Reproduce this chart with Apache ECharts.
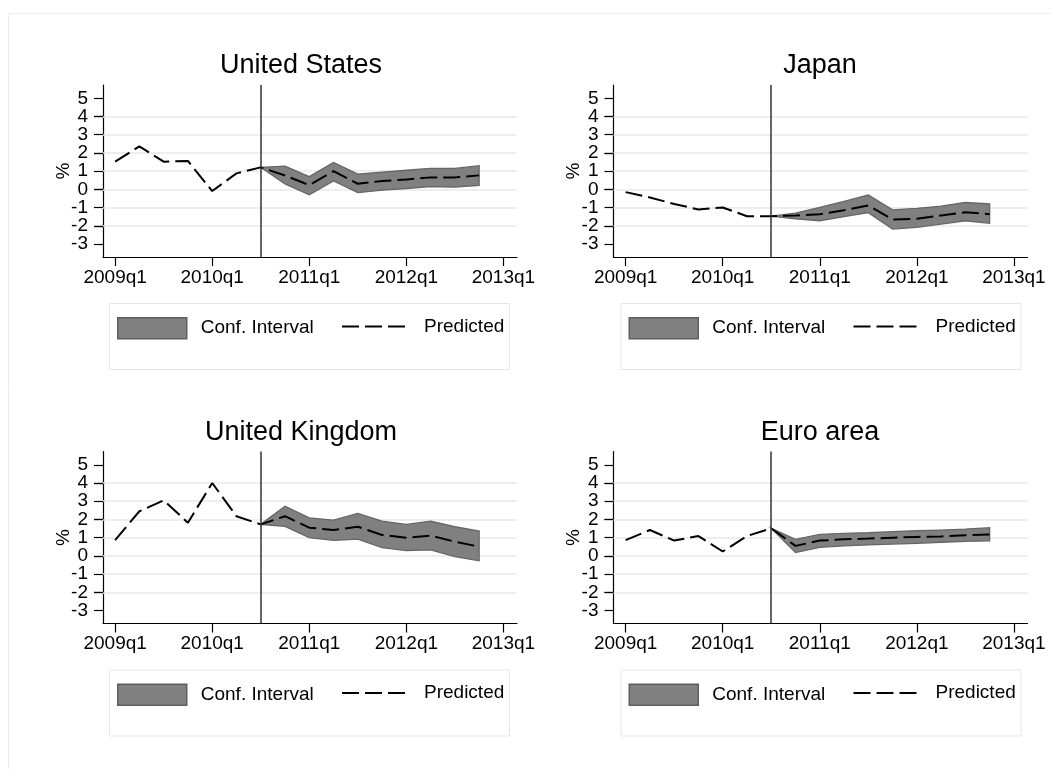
<!DOCTYPE html>
<html><head><meta charset="utf-8">
<script src="https://cdn.jsdelivr.net/npm/echarts@6/dist/echarts.min.js"></script>
<style>html,body{margin:0;padding:0;background:#fff}#c{width:1051px;height:769px}</style>
</head><body><div id="c"></div>
<script>
// ---- data ----
const quarters = [0,1,2,3,4,5,6,7,8,9,10,11,12,13,14,15]; // 0 = 2009q1
const forecastQuarters = [6,7,8,9,10,11,12,13,14,15];
const tickQuarters = [0,4,8,12,16];
const tickLabels = ['2009q1','2010q1','2011q1','2012q1','2013q1'];
const yTicks = [-3,-2,-1,0,1,2,3,4,5];
const yLabelsOdd = [-3,-1,1,3,5];
const yLabelsEven = [-2,0,2,4];
const gridValues = [-2,-1,0,1,2,3,4];
const cutoffQuarter = 6; // 2010q3
const panelTitles = ['United States','Japan','United Kingdom','Euro area'];

const usPredicted = [1.52,2.36,1.52,1.56,-0.09,0.88,1.21,0.76,0.24,1.00,0.31,0.46,0.55,0.66,0.66,0.77];
const usLower     = [1.21,0.30,-0.30,0.46,-0.18,-0.04,0.05,0.15,0.12,0.22];
const usUpper     = [1.21,1.28,0.70,1.48,0.84,0.95,1.05,1.15,1.15,1.30];

const jpPredicted = [-0.15,-0.44,-0.80,-1.10,-0.99,-1.47,-1.47,-1.43,-1.36,-1.14,-0.88,-1.65,-1.61,-1.43,-1.25,-1.36];
const jpLower     = [-1.47,-1.62,-1.72,-1.50,-1.28,-2.18,-2.08,-1.90,-1.72,-1.86];
const jpUpper     = [-1.47,-1.30,-0.99,-0.66,-0.30,-1.12,-1.04,-0.92,-0.72,-0.80];

const ukPredicted = [0.87,2.45,3.05,1.82,4.00,2.18,1.73,2.18,1.55,1.42,1.60,1.15,1.00,1.11,0.78,0.51];
const ukLower     = [1.73,1.62,1.00,0.85,0.92,0.45,0.29,0.33,-0.04,-0.27];
const ukUpper     = [1.73,2.73,2.09,1.96,2.33,1.91,1.73,1.91,1.60,1.36];

const euPredicted = [0.87,1.42,0.84,1.09,0.24,1.09,1.51,0.55,0.84,0.91,0.95,1.00,1.04,1.07,1.13,1.18];
const euLower     = [1.51,0.18,0.47,0.55,0.60,0.65,0.69,0.75,0.80,0.82];
const euUpper     = [1.51,0.91,1.18,1.24,1.27,1.33,1.38,1.42,1.47,1.55];

const panelData = [
  [usPredicted, usLower, usUpper],
  [jpPredicted, jpLower, jpUpper],
  [ukPredicted, ukLower, ukUpper],
  [euPredicted, euLower, euUpper]
];

// ---- layout ----
const FONT = '"Liberation Sans", Arial, Helvetica, sans-serif';
const colX = [103, 613.5];
const rowY = [85, 451.5];
const titleX = [301, 820];
const legendX = [109, 620.5];
const PW = 414, PH = 172;

const grids = [], xAxes = [], yAxes = [], series = [], legends = [], graphics = [];

graphics.push({type:'rect', shape:{x:8.5, y:13.5, width:1100, height:800},
  style:{fill:null, stroke:'#ececec', lineWidth:1}, silent:true});

const labelStyle = {margin:15, fontSize:19, color:'#000', fontFamily:FONT,
  showMinLabel:true, showMaxLabel:true, hideOverlap:false};

for (let k = 0; k < 4; k++) {
  const col = k % 2, row = Math.floor(k / 2);
  const gx = colX[col], gy = rowY[row];
  const [pred, lower, upper] = panelData[k];
  grids.push({left:gx, top:gy, width:PW, height:PH, containLabel:false});
  xAxes.push({
    type:'value', gridIndex:k, min:-0.5, max:16.56,
    axisLine:{show:true, onZero:false, lineStyle:{color:'#000', width:1.2}},
    axisTick:{show:true, length:9, customValues:tickQuarters, lineStyle:{color:'#000', width:1.2}},
    axisLabel:{customValues:tickQuarters, margin:11, fontSize:19, color:'#000', fontFamily:FONT,
      showMinLabel:true, showMaxLabel:true, hideOverlap:false,
      formatter:(v)=>tickLabels[tickQuarters.indexOf(v)]},
    splitLine:{show:false}
  });
  const mainY = yAxes.length;
  yAxes.push({
    type:'value', gridIndex:k, min:-3.71, max:5.73, position:'left', offset:0,
    name:'%', nameLocation:'middle', nameGap:30, nameRotate:90, nameMoveOverlap:false,
    nameTextStyle:{fontSize:19, color:'#000', fontFamily:FONT},
    axisLine:{show:true, onZero:false, lineStyle:{color:'#000', width:1.2}},
    axisTick:{show:true, length:9, customValues:yTicks, lineStyle:{color:'#000', width:1.2}},
    axisLabel:Object.assign({customValues:yLabelsOdd}, labelStyle),
    splitLine:{show:false}
  });
  yAxes.push({
    type:'value', gridIndex:k, min:-3.71, max:5.73, position:'left', offset:0,
    axisLine:{show:false, onZero:false},
    axisTick:{show:true, length:9, customValues:yLabelsEven, lineStyle:{color:'#000', width:1.2}},
    axisLabel:Object.assign({customValues:yLabelsEven}, labelStyle),
    splitLine:{show:false}
  });
  // gridlines
  series.push({
    type:'line', name:'grid'+k, xAxisIndex:k, yAxisIndex:mainY, data:[], silent:true,
    markLine:{silent:true, symbol:'none', z:1, animation:false,
      label:{show:false},
      lineStyle:{color:'#e8e8e8', width:1.6, type:'solid'},
      emphasis:{disabled:true},
      data:gridValues.map(v=>({yAxis:v}))}
  });
  // confidence band
  const bandData = forecastQuarters.map((q,i)=>[q, lower[i], upper[i]]);
  series.push({
    type:'custom', name:'Conf. Interval', xAxisIndex:k, yAxisIndex:mainY, z:2, silent:true,
    itemStyle:{color:'#808080'},
    encode:{x:0, y:[1,2]},
    data:bandData,
    renderItem:function(params, api){
      if (params.dataIndex !== 0) return null;
      const pts = [];
      for (let i = 0; i < bandData.length; i++) pts.push(api.coord([bandData[i][0], bandData[i][2]]));
      for (let i = bandData.length-1; i >= 0; i--) pts.push(api.coord([bandData[i][0], bandData[i][1]]));
      return {type:'polygon', shape:{points:pts},
        style:{fill:'#808080', stroke:'#666666', lineWidth:1.3}};
    }
  });
  // predicted line
  series.push({
    type:'line', name:'Predicted', xAxisIndex:k, yAxisIndex:mainY, z:3, silent:true,
    data:quarters.map((q,i)=>[q, pred[i]]),
    symbol:'none', showSymbol:false,
    lineStyle:{color:'#000', width:2, type:[17,6]},
    itemStyle:{color:'#000'},
    markLine:{silent:true, symbol:'none', z:5, animation:false,
      label:{show:false}, emphasis:{disabled:true},
      lineStyle:{color:'#333', width:1.5, type:'solid'},
      data:[{xAxis:cutoffQuarter}]}
  });
  // title
  graphics.push({type:'text', x:titleX[col], y:gy-19, silent:true,
    style:{text:panelTitles[k], font:'27px '+FONT, fill:'#000', align:'center', verticalAlign:'middle'}});
  // legend box
  const ly = gy + 218;
  graphics.push({type:'rect', shape:{x:legendX[col]+0.5, y:ly+0.5, width:400, height:66},
    style:{fill:null, stroke:'#e6e6e6', lineWidth:1}, silent:true});
  legends.push({
    left:legendX[col]+8, top:ly+14, itemWidth:69, itemHeight:21, padding:0, selectedMode:false,
    data:[{name:'Conf. Interval', icon:'rect',
      itemStyle:{color:'#808080', borderColor:'#5e5e5e', borderWidth:1.5}}],
    textStyle:{fontSize:19, color:'#000', fontFamily:FONT, padding:[0,0,0,9]}
  });
  legends.push({
    left:legendX[col]+232, top:ly+14, itemWidth:63, itemHeight:21, padding:0, selectedMode:false,
    data:[{name:'Predicted', itemStyle:{opacity:0}, lineStyle:{type:[17,6], width:2, color:'#000'}}],
    textStyle:{fontSize:19, color:'#000', fontFamily:FONT, padding:[0,0,0,14]}
  });
}

const chart = echarts.init(document.getElementById('c'), null, {renderer:'canvas'});
chart.setOption({
  animation:false,
  backgroundColor:'#fff',
  grid:grids, xAxis:xAxes, yAxis:yAxes, series:series, legend:legends,
  graphic:graphics
});
</script></body></html>
